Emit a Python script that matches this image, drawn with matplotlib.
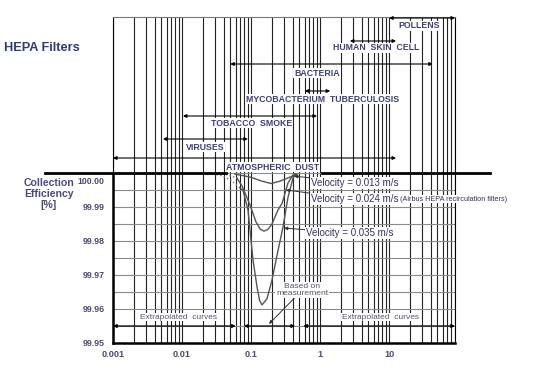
import numpy as np
import matplotlib.pyplot as plt
import matplotlib.ticker as mticker
from matplotlib.lines import Line2D
from matplotlib.transforms import ScaledTranslation

plt.rcParams['font.family'] = ['Liberation Sans', 'DejaVu Sans']

# particle size ranges (micrometre)
particles = ['ATMOSPHERIC  DUST', 'VIRUSES', 'TOBACCO  SMOKE',
             'MYCOBACTERIUM  TUBERCULOSIS', 'BACTERIA', 'HUMAN  SKIN  CELL', 'POLLENS']
size_lo = [0.001, 0.0053, 0.0103, 0.6, 0.05, 2.7, 10]
size_hi = [12.6, 0.09, 0.9, 1.4, 43, 12.6, 90]

# collection efficiency [%] vs particle size, per face velocity
v013_x = [0.058, 0.097, 0.144, 0.195, 0.263, 0.367, 0.463]
v013_y = [99.9997, 99.9988, 99.9976, 99.9969, 99.9976, 99.9988, 99.9997]
v024_x = [0.0625, 0.074, 0.0966, 0.118, 0.135, 0.154, 0.175, 0.201, 0.245, 0.283,
          0.343, 0.405, 0.45]
v024_y = [99.9985, 99.9962, 99.9906, 99.9856, 99.9835, 99.9829, 99.9834, 99.985,
          99.9891, 99.9912, 99.9971, 99.9994, 100.0]
v035_x = [0.0692, 0.0764, 0.0903, 0.1067, 0.122, 0.133, 0.144, 0.17, 0.201, 0.23,
          0.29, 0.343, 0.405, 0.448]
v035_y = [99.9956, 99.995, 99.9891, 99.9744, 99.9665, 99.9625, 99.9612, 99.963,
          99.9685, 99.9744, 99.9841, 99.9929, 99.9985, 99.9997]
vel_labels = ['Velocity = 0.013 m/s', 'Velocity = 0.024 m/s', 'Velocity = 0.035 m/s']

# dotted extrapolated parts
ext024_x = [0.03, 0.045, 0.0625]
ext024_y = [100.0, 99.9995, 99.9985]
ext035_x = [0.022, 0.035, 0.05, 0.0692]
ext035_y = [100.0, 99.9994, 99.998, 99.9956]

# bottom bands: extrapolated / measured / extrapolated
band_lo = [0.001, 0.079, 0.57]
band_hi = [0.06, 0.435, 90]

xticks = [0.001, 0.01, 0.1, 1, 10]
xticklabels = ['0.001', '0.01', '0.1', '1', '10']
yticks = [99.95, 99.96, 99.97, 99.98, 99.99, 100.00]

W, H = 556, 388
fig = plt.figure(figsize=(W / 100, H / 100), dpi=100)


def px_box(x0, y0, x1, y1):
    return [x0 / W, 1 - y1 / H, (x1 - x0) / W, (y1 - y0) / H]


ax = fig.add_axes(px_box(113, 173, 455, 343))
top = fig.add_axes(px_box(113, 17, 455, 173), sharex=ax)

navy = '#3d3d7a'
txtc = '#32325a'
white = dict(fc='white', ec='none', pad=0.6)

for a in (ax, top):
    a.set_xscale('log')
    a.set_xlim(0.001, 90)
    a.xaxis.set_minor_locator(mticker.LogLocator(base=10, subs=np.arange(2, 10)))
    a.grid(True, which='both', axis='x', color='#222222', lw=0.8)
    a.set_axisbelow(True)
    a.tick_params(which='both', length=0)

# ---- lower panel: efficiency
ax.set_ylim(99.95, 100.0)
ax.set_yticks(yticks)
ax.yaxis.set_major_formatter(mticker.FormatStrFormatter('%.2f'))
ax.yaxis.set_minor_locator(mticker.MultipleLocator(0.005))
ax.grid(True, which='both', axis='y', color='#8a8a8a', lw=0.8)
ax.set_xticks(xticks)
ax.set_xticklabels(xticklabels)
ax.tick_params(axis='y', pad=6, labelsize=6.3, labelcolor='#4a4a6e')
ax.tick_params(axis='x', pad=5, labelsize=6.6, labelcolor='#4a4a6e')
for lab in ax.get_xticklabels() + ax.get_yticklabels():
    lab.set_fontweight('bold')
# 100.00 sits a bit under the thick line in the original
lab = ax.get_yticklabels()[-1]
lab.set_transform(lab.get_transform() + ScaledTranslation(0, -0.08, fig.dpi_scale_trans))

ax.spines['top'].set_visible(False)
ax.spines['left'].set_linewidth(1.8)
ax.spines['bottom'].set_linewidth(1.8)
ax.spines['right'].set_linewidth(0.8)

ax.plot(ext024_x, ext024_y, ls=':', color='#777777', lw=1)
ax.plot(ext035_x, ext035_y, ls=':', color='#777777', lw=1)
ax.plot(v013_x, v013_y, color='#555555', lw=1)
ax.plot(v024_x, v024_y, color='#555555', lw=1)
ax.plot(v035_x, v035_y, color='#555555', lw=1)

ann = dict(arrowstyle='-|>', color='#333333', lw=0.7, mutation_scale=5,
           shrinkA=0, shrinkB=0)
vel_text = [(0.738, 99.9971), (0.738, 99.99235), (0.625, 99.98235)]
vel_tip = [(0.419, 99.9991), (0.321, 99.995), (0.30, 99.9838)]
for lbl, (tx, ty), tip in zip(vel_labels, vel_text, vel_tip):
    ax.annotate(lbl, xy=tip, xytext=(tx, ty), ha='left', va='center', fontsize=7,
                color=txtc, bbox=white, arrowprops=ann, annotation_clip=False)
ax.text(14.3, 99.99235, '(Airbus HEPA recirculation filters)', ha='left', va='center',
        fontsize=5.2, color=txtc, bbox=dict(fc='white', ec='none', pad=0.3))

ax.annotate('Based on\nmeasurement', xy=(0.182, 99.9556), xytext=(0.547, 99.9655),
            ha='center', va='center', fontsize=6.1, color='#555566', linespacing=1.0,
            bbox=white, arrowprops=ann)

for lo, hi in zip(band_lo, band_hi):
    ax.annotate('', xy=(hi, 99.955), xytext=(lo, 99.955), annotation_clip=False,
                arrowprops=dict(arrowstyle='<|-|>', color='k', lw=0.9,
                                mutation_scale=5, shrinkA=0, shrinkB=0))
for xc in (0.00875, 7.4):
    ax.text(xc, 99.9576, 'Extrapolated  curves', ha='center', va='center',
            fontsize=6, color='#555577', bbox=white)

# ---- upper panel: particle size ranges (y in pixel rows)
top.set_ylim(173, 17)
top.tick_params(labelbottom=False, labelleft=False)
top.spines['bottom'].set_visible(False)
for s in ('top', 'left', 'right'):
    top.spines[s].set_linewidth(0.8)
top.spines['top'].set_color('#777777')

arrow_rows = [158, 139, 116, 91, 64, 41, 18]
label_rows = [167, 147, 123, 99, 73, 48, 26]
label_x = [0.208, 0.0215, 0.103, 1.07, 0.9, 6.5, 27]
for name, lo, hi, ya, yl, xl in zip(particles, size_lo, size_hi,
                                     arrow_rows, label_rows, label_x):
    top.annotate('', xy=(hi, ya), xytext=(lo, ya), annotation_clip=False,
                 arrowprops=dict(arrowstyle='<|-|>', color='k', lw=0.8,
                                 mutation_scale=5, shrinkA=0, shrinkB=0))
    top.text(xl, yl, name, ha='center', va='center', fontsize=6.3,
             fontweight='bold', color=navy, bbox=white)

# thick 100 % line
for x0, x1 in ((45, 226), (322, 490)):
    fig.add_artist(Line2D([x0 / W, x1 / W], [1 - 173 / H] * 2, color='k', lw=2))

fig.text(4 / W, 1 - 48 / H, 'HEPA Filters', fontsize=9.2, fontweight='bold',
         color='#2e3a7a', va='center')
fig.text(49 / W, 1 - 194 / H, 'Collection\nEfficiency\n[%]', ha='center', va='center',
         fontsize=7.6, fontweight='bold', color='#4a4a80', linespacing=1.1)

fig.savefig('out.png', dpi=100)
